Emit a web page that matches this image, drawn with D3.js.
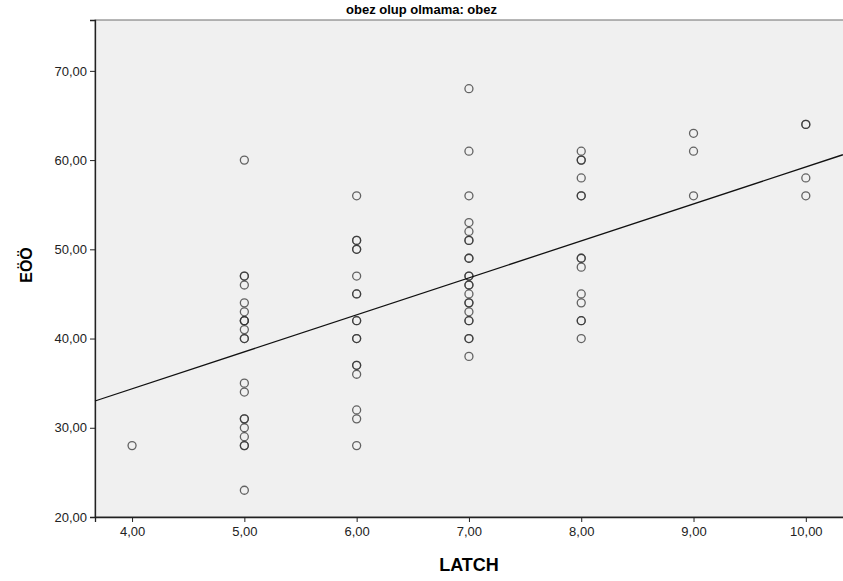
<!DOCTYPE html>
<html>
<head>
<meta charset="utf-8">
<script src="https://cdn.jsdelivr.net/npm/d3@7"></script>
<style>
body { margin: 0; background: #fff; }
</style>
</head>
<body>
<div id="chart"></div>
<script>
// LATCH scores and the EÖÖ value of each case (duplicates kept)
const latch = [
	4,
	5, 5, 5, 5, 5, 5, 5, 5, 5, 5, 5, 5, 5, 5, 5, 5, 5, 5, 5, 5, 5,
	6, 6, 6, 6, 6, 6, 6, 6, 6, 6, 6, 6, 6, 6, 6, 6, 6, 6,
	7, 7, 7, 7, 7, 7, 7, 7, 7, 7, 7, 7, 7, 7, 7, 7, 7, 7, 7, 7, 7, 7,
	8, 8, 8, 8, 8, 8, 8, 8, 8, 8, 8, 8, 8, 8,
	9, 9, 9,
	10, 10, 10, 10
];
const eoo = [
	28,
	60, 47, 47, 46, 44, 43, 42, 42, 42, 41, 40, 40, 35, 34, 31, 31, 30, 29, 28, 28, 23,
	56, 51, 51, 50, 50, 47, 45, 45, 42, 42, 40, 40, 37, 37, 36, 32, 31, 28,
	68, 61, 56, 53, 52, 51, 51, 49, 49, 47, 47, 46, 46, 45, 44, 44, 43, 42, 42, 40, 40, 38,
	61, 60, 60, 58, 56, 56, 49, 49, 48, 45, 44, 42, 42, 40,
	63, 61, 56,
	64, 64, 58, 56
];

// fit line end points
const fitX = [3.67, 10.33];
const fitY = [33.0, 60.6];

const xTicks = [4, 5, 6, 7, 8, 9, 10];
const yTicks = [20, 30, 40, 50, 60, 70];

const width = 843, height = 581;
const plotLeft = 95, plotTop = 20, plotRight = 844, plotBottom = 517;

const x = d3.scaleLinear().domain([3.67, 10.34]).range([plotLeft, plotRight]);
const y = d3.scaleLinear().domain([20, 75.7]).range([plotBottom, plotTop]);

const fmt = (v) => d3.format(".2f")(v).replace(".", ",");

const svg = d3.select("#chart")
	.append("svg")
	.attr("width", width)
	.attr("height", height);

svg.append("rect")
	.attr("x", plotLeft)
	.attr("y", plotTop)
	.attr("width", plotRight - plotLeft)
	.attr("height", plotBottom - plotTop)
	.attr("fill", "#f0f0f0")
	.attr("stroke", "#6e6e6e")
	.attr("stroke-width", 1);

svg.append("text")
	.attr("x", width / 2)
	.attr("y", 14)
	.attr("text-anchor", "middle")
	.style("font-family", "'Liberation Sans', Arial, sans-serif")
	.style("font-weight", "bold")
	.style("font-size", "13px")
	.text("obez olup olmama: obez");

// axes
const yAxis = svg.append("g")
	.attr("transform", `translate(${plotLeft},0)`)
	.call(d3.axisLeft(y).tickValues(yTicks).tickFormat(fmt).tickSize(5).tickPadding(3));
yAxis.selectAll("text")
	.style("font-family", "'Liberation Sans', Arial, sans-serif")
	.style("font-size", "13px")
	.attr("fill", "#222");

const xAxis = svg.append("g")
	.attr("transform", `translate(0,${plotBottom})`)
	.call(d3.axisBottom(x).tickValues(xTicks).tickFormat(fmt).tickSize(5).tickPadding(5));
xAxis.selectAll("text")
	.style("font-family", "'Liberation Sans', Arial, sans-serif")
	.style("font-size", "13px")
	.attr("fill", "#222");

svg.selectAll(".domain").attr("stroke", "#222").attr("stroke-width", 1.3);
svg.selectAll(".tick line").attr("stroke", "#222");

svg.append("text")
	.attr("x", 469)
	.attr("y", 571)
	.attr("text-anchor", "middle")
	.style("font-family", "'Liberation Sans', Arial, sans-serif")
	.style("font-weight", "bold")
	.style("font-size", "18px")
	.text("LATCH");

svg.append("text")
	.attr("transform", "translate(32,265) rotate(-90)")
	.attr("text-anchor", "middle")
	.style("font-family", "'Liberation Sans', Arial, sans-serif")
	.style("font-weight", "bold")
	.style("font-size", "16px")
	.text("EÖÖ");

// points
svg.append("g")
	.selectAll("circle")
	.data(latch)
	.enter()
	.append("circle")
	.attr("cx", (d) => x(d))
	.attr("cy", (d, i) => y(eoo[i]))
	.attr("r", 4)
	.attr("fill", "none")
	.attr("stroke", "#333")
	.attr("stroke-opacity", 0.75)
	.attr("stroke-width", 1.3);

// fit line
svg.append("line")
	.attr("x1", x(fitX[0]))
	.attr("y1", y(fitY[0]))
	.attr("x2", x(fitX[1]))
	.attr("y2", y(fitY[1]))
	.attr("stroke", "#111")
	.attr("stroke-width", 1.3);
</script>
</body>
</html>
